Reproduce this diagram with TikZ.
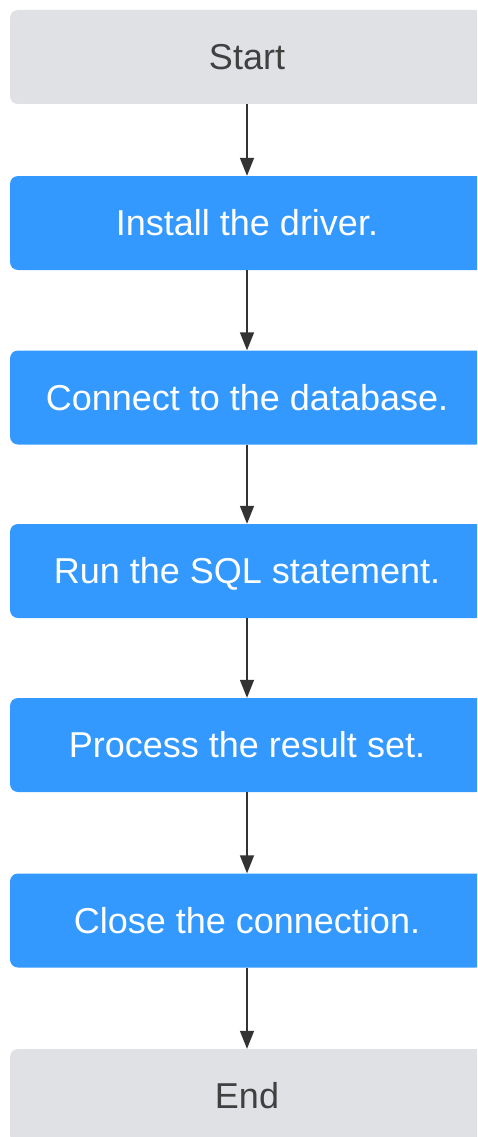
\documentclass[tikz,border=0pt]{standalone}
\usepackage{fontspec}
\setmainfont{Liberation Sans}
\usetikzlibrary{arrows.meta}
\definecolor{stepblue}{HTML}{3399FF}
\definecolor{termgrey}{HTML}{DFE1E5}
\definecolor{termtext}{HTML}{404040}
\definecolor{linkgrey}{HTML}{333333}
\tikzset{
  box/.style={rectangle, rounded corners=8pt, minimum width=474pt, minimum height=94pt,
    inner sep=0pt, font=\fontsize{36}{40}\selectfont, text height=25.8pt, text depth=0pt},
  stepbox/.style={box, fill=stepblue, text=white},
  termbox/.style={box, fill=termgrey, text=termtext},
  link/.style={draw=linkgrey, line width=1.5pt, -{Triangle[width=14pt,length=18pt]}}
}
\begin{document}
\begin{tikzpicture}[x=1pt,y=-1pt]
  \useasboundingbox (0,0) rectangle (477,1137);
  \clip (0,0) rectangle (477,1137);
  \fill[white] (0,0) rectangle (477,1137);
  \node[termbox] (start)   at (247,57)    {Start};
  \node[stepbox] (driver)  at (247,223)   {Install the driver.};
  \node[stepbox] (connect) at (247,397.5) {Connect to the database.};
  \node[stepbox] (run)     at (247,571)   {Run the SQL statement.};
  \node[stepbox] (process) at (247,745)   {Process the result set.};
  \node[stepbox] (close)   at (247,920.5) {Close the connection.};
  \node[termbox] (end)     at (247,1096)  {End};
  \draw[link] (start) -- (driver);
  \draw[link] (driver) -- (connect);
  \draw[link] (connect) -- (run);
  \draw[link] (run) -- (process);
  \draw[link] (process) -- (close);
  \draw[link] (close) -- (end);
\end{tikzpicture}
\end{document}
